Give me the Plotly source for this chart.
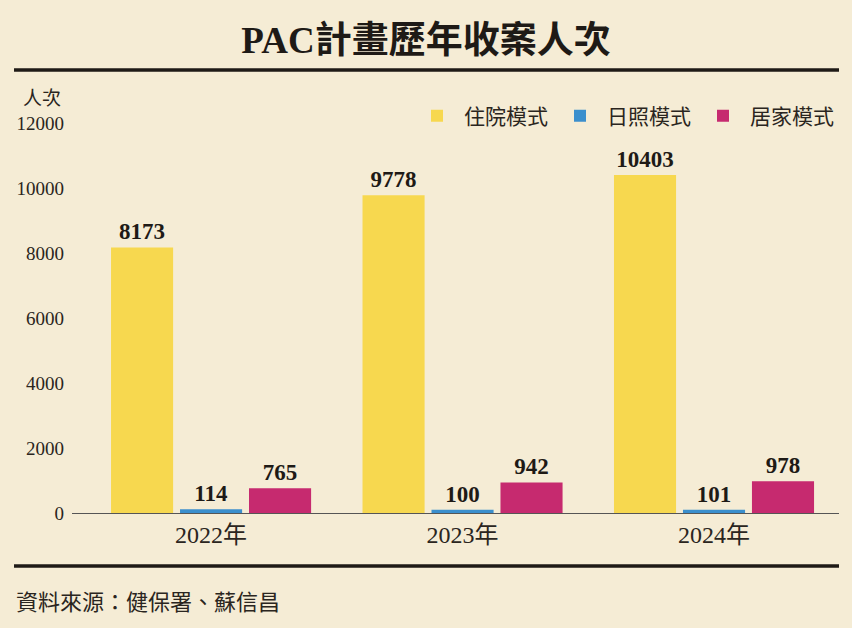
import plotly.graph_objects as go

years = ["2022年", "2023年", "2024年"]
inpatient = [8173, 9778, 10403]
daycare = [114, 100, 101]
homecare = [765, 942, 978]

series_names = ["住院模式", "日照模式", "居家模式"]
colors = ["#f7d84f", "#3b8fcd", "#c62a6f"]
y_ticks = [0, 2000, 4000, 6000, 8000, 10000, 12000]

bg = "#f5ecd5"
serif = "Liberation Serif, Noto Sans CJK TC"

fig = go.Figure()
for name, vals, col in zip(series_names, [inpatient, daycare, homecare], colors):
    fig.add_trace(go.Bar(
        x=years, y=vals, name=name,
        marker=dict(color=col, line=dict(width=0)),
        text=vals, textposition="outside",
        textfont=dict(family=serif, size=23, color="#1e1a16", weight="bold"),
        cliponaxis=False,
    ))

fig.update_layout(
    width=852, height=628,
    paper_bgcolor=bg, plot_bgcolor=bg,
    margin=dict(l=72, r=13, t=123, b=115),
    barmode="group", bargap=0.177, bargroupgap=0.1,
    showlegend=True,
    legend=dict(orientation="h", x=1, xanchor="right", y=1.018, yanchor="middle",
                font=dict(family="Noto Sans CJK TC", size=21, color="#2a2520"),
                bgcolor="rgba(0,0,0,0)", itemwidth=44, traceorder="normal"),
    title=dict(text="<b>PAC計畫歷年收案人次</b>", x=0.5, xanchor="center",
               y=1 - 40 / 628, yanchor="middle",
               font=dict(family="Liberation Serif, Noto Sans CJK TC",
                         size=37, color="#1e1a16")),
    xaxis=dict(range=[-0.553, 2.497], showline=True, linecolor="#555", linewidth=1,
               ticks="", showgrid=False,
               tickfont=dict(family=serif, size=24, color="#2a2520")),
    yaxis=dict(range=[0, 12000], tickvals=y_ticks, tickformat="d",
               showgrid=False, zeroline=False, showline=False, ticks="",
               tickfont=dict(family=serif, size=19, color="#2a2520"),
               ticklabelstandoff=7),
    font=dict(family=serif),
)

# rules above and below the chart
fig.add_shape(type="line", xref="paper", yref="paper", x0=-0.0756, x1=1.0, y0=1.136, y1=1.136,
              line=dict(color="#1e1a16", width=3.5))
fig.add_shape(type="line", xref="paper", yref="paper", x0=-0.0756, x1=1.0, y0=-0.136, y1=-0.136,
              line=dict(color="#1e1a16", width=3.5))

fig.add_annotation(text="人次", xref="paper", yref="paper", x=-0.0117, y=1.027,
                   xanchor="right", yanchor="bottom", showarrow=False,
                   font=dict(family="Noto Sans CJK TC", size=19, color="#2a2520"))
fig.add_annotation(text="資料來源：健保署、蘇信昌", xref="paper", yref="paper",
                   x=-0.0756, y=-0.223, xanchor="left", yanchor="middle", showarrow=False,
                   font=dict(family="Noto Sans CJK TC", size=22, color="#2a2520"))

fig.write_html("out.html", config={"displayModeBar": False},
               post_script="document.body.style.margin='0';")
